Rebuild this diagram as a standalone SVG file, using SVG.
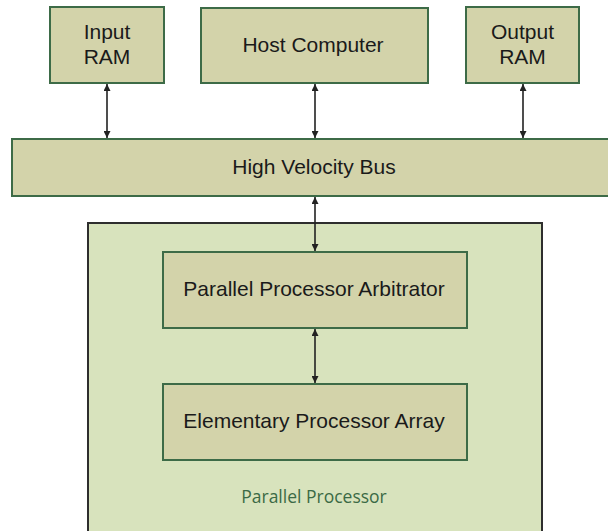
<svg xmlns="http://www.w3.org/2000/svg" width="608" height="531" viewBox="0 0 608 531">
<defs>
<style>
.box{fill:#d3d3aa;stroke:#3d6b47;stroke-width:2}
.container{fill:#d8e3bd;stroke:#2e2e2e;stroke-width:2}
.t{font-family:"Liberation Sans",Arial,sans-serif;font-size:21px;fill:#1a1a1a;text-anchor:middle}
.lbl{font-family:"Open Sans","Liberation Sans",sans-serif;font-size:17.5px;fill:#3b6a45;text-anchor:middle}
.c{stroke:#222;stroke-width:1.6;fill:none;marker-start:url(#ah);marker-end:url(#ah)}
</style>
<marker id="ah" viewBox="0 0 10 10" refX="10" refY="5" markerWidth="7" markerHeight="7" orient="auto-start-reverse" markerUnits="userSpaceOnUse">
<path d="M0,0 L10,5 L0,10 Z" fill="#222"/>
</marker>
</defs>
<rect width="608" height="531" fill="#ffffff"/>
<g id="parallel-processor">
<rect class="container" x="88" y="223" width="454" height="320"/>
<text class="lbl" x="314" y="503">Parallel Processor</text>
</g>
<g id="input-ram">
<rect class="box" x="50" y="7" width="114" height="76"/>
<text class="t" x="107" y="39">Input</text>
<text class="t" x="107" y="64">RAM</text>
</g>
<g id="host-computer">
<rect class="box" x="201" y="8" width="227" height="75"/>
<text class="t" x="313" y="52">Host Computer</text>
</g>
<g id="output-ram">
<rect class="box" x="466" y="7" width="113" height="76"/>
<text class="t" x="522.5" y="39">Output</text>
<text class="t" x="522.5" y="64">RAM</text>
</g>
<g id="high-velocity-bus">
<rect class="box" x="12" y="139" width="600" height="57"/>
<text class="t" x="314" y="174">High Velocity Bus</text>
</g>
<g id="arbitrator">
<rect class="box" x="163" y="252" width="304" height="76"/>
<text class="t" x="314" y="296">Parallel Processor Arbitrator</text>
</g>
<g id="epa">
<rect class="box" x="163" y="384" width="304" height="76"/>
<text class="t" x="314" y="428">Elementary Processor Array</text>
</g>
<g id="connectors">
<line class="c" x1="107" y1="84" x2="107" y2="138"/>
<line class="c" x1="315" y1="84" x2="315" y2="138"/>
<line class="c" x1="523" y1="84" x2="523" y2="138"/>
<line class="c" x1="315" y1="197" x2="315" y2="251"/>
<line class="c" x1="315" y1="329" x2="315" y2="383"/>
</g>
</svg>
